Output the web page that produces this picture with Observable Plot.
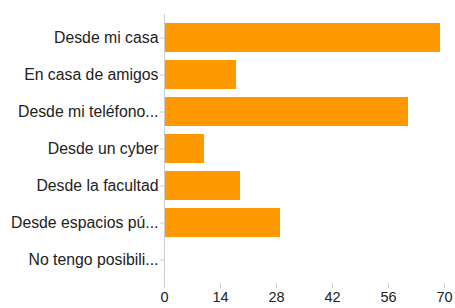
<!DOCTYPE html>
<html>
<head>
<meta charset="utf-8">
<script src="https://cdn.jsdelivr.net/npm/d3@7"></script>
<script src="https://cdn.jsdelivr.net/npm/@observablehq/plot@0.6"></script>
<style>
  html, body { margin: 0; padding: 0; background: #fff; }
  svg { font-family: "Liberation Sans", Arial, sans-serif; }
</style>
</head>
<body>
<div id="chart"></div>
<script>
const categories = [
  "Desde mi casa",
  "En casa de amigos",
  "Desde mi teléfono...",
  "Desde un cyber",
  "Desde la facultad",
  "Desde espacios pú...",
  "No tengo posibili..."
];
const values = [69, 18, 61, 10, 19, 29, 0];
const xTicks = [0, 14, 28, 42, 56, 70];

const data = categories.map((c, i) => ({category: c, value: values[i]}));

const chart = Plot.plot({
  width: 455,
  height: 308,
  marginLeft: 164,
  marginRight: 11,
  marginTop: 14,
  marginBottom: 25,
  style: {fontSize: "14px", color: "#222", background: "#fff"},
  x: {domain: [0, 70], ticks: xTicks, label: null},
  y: {domain: categories, label: null, padding: 0.22},
  marks: [
    Plot.barX(data, {x: "value", y: "category", fill: "#ff9900"}),
    Plot.ruleX([0], {stroke: "#ccc"}),
    Plot.ruleY([0], {frameAnchor: "bottom", stroke: "#ccc"}),
    Plot.axisX({ticks: xTicks, stroke: "#ccc", color: "#222", tickSize: 5, tickPadding: 3, fontSize: 14.5, label: null}),
    Plot.axisY({stroke: "#ccc", color: "#222", tickSize: 4, tickPadding: 2, fontSize: 15.8, label: null})
  ]
});
document.getElementById("chart").appendChild(chart);
</script>
</body>
</html>
